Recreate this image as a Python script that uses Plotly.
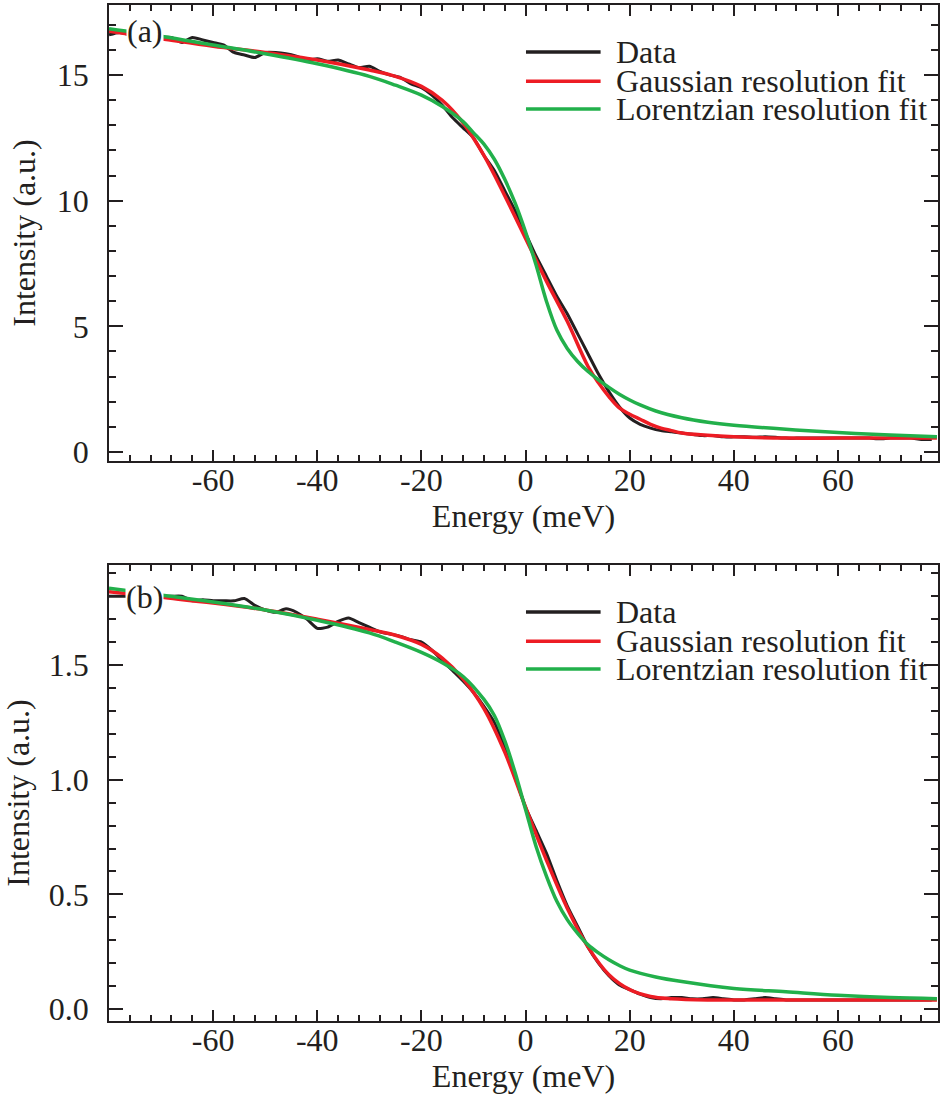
import plotly.graph_objects as go

# ---------------------------------------------------------------- data
# Measured spectra, sampled every 2 meV from -80 to 78 meV
energy_data = list(range(-80, 80, 2))

data_a = [16.6, 16.7, 16.6, 16.55, 16.5, 16.5, 16.5, 16.3, 16.5, 16.4,
          16.3, 16.2, 15.9, 15.8, 15.7, 15.9, 15.9, 15.85, 15.75, 15.6,
          15.65, 15.55, 15.6, 15.45, 15.3, 15.35, 15.15, 15.0, 14.9, 14.65,
          14.5, 14.2, 13.8, 13.3, 12.9, 12.5, 11.8, 11.2, 10.4, 9.6,
          8.7, 7.8, 7.0, 6.2, 5.5, 4.7, 3.9, 3.1, 2.4, 1.8,
          1.35, 1.1, 0.95, 0.85, 0.8, 0.75, 0.7, 0.65, 0.65, 0.6,
          0.6, 0.6, 0.58, 0.6, 0.58, 0.55, 0.55, 0.55, 0.55, 0.55,
          0.55, 0.55, 0.55, 0.55, 0.52, 0.55, 0.55, 0.55, 0.5, 0.5]

data_b = [1.80, 1.80, 1.80, 1.80, 1.80, 1.80, 1.80, 1.80, 1.78, 1.785,
          1.78, 1.78, 1.78, 1.79, 1.76, 1.74, 1.73, 1.745, 1.73, 1.70,
          1.66, 1.665, 1.69, 1.705, 1.685, 1.665, 1.645, 1.635, 1.625, 1.61,
          1.60, 1.565, 1.52, 1.475, 1.43, 1.38, 1.32, 1.25, 1.14, 1.01,
          0.88, 0.78, 0.68, 0.56, 0.45, 0.36, 0.27, 0.20, 0.145, 0.105,
          0.085, 0.065, 0.05, 0.045, 0.05, 0.05, 0.045, 0.045, 0.05, 0.045,
          0.04, 0.04, 0.045, 0.05, 0.045, 0.04, 0.04, 0.04, 0.04, 0.04,
          0.04, 0.04, 0.04, 0.04, 0.04, 0.04, 0.04, 0.04, 0.04, 0.04]

# Gaussian-resolution fits
gauss_e_a = [-80, -70, -60, -50, -40, -30, -25, -20, -16, -12, -8, -4, 0, 4, 8,
             12, 14, 16, 18, 20, 22, 24, 26, 28, 30, 40, 50, 60, 70, 79]
gauss_a = [16.75, 16.45, 16.15, 15.9, 15.6, 15.2, 14.95, 14.55, 14.0, 13.1,
           11.8, 10.2, 8.5, 6.8, 5.2, 3.4, 2.75, 2.2, 1.75, 1.5,
           1.3, 1.1, 0.95, 0.85, 0.75, 0.6, 0.55, 0.55, 0.55, 0.55]

gauss_e_b = [-80, -70, -60, -50, -40, -30, -25, -20, -16, -12, -8, -4, 0, 4, 8,
             12, 16, 20, 24, 28, 35, 50, 79]
gauss_b = [1.82, 1.795, 1.77, 1.74, 1.70, 1.655, 1.63, 1.59, 1.53, 1.44,
           1.31, 1.12, 0.88, 0.65, 0.44, 0.27, 0.15, 0.085, 0.055, 0.045,
           0.04, 0.04, 0.04]

# Lorentzian-resolution fits
lor_e_a = [-80, -70, -60, -50, -40, -30, -25, -20, -16, -12, -10, -8, -6, -4, -2, 0,
           2, 4, 6, 8, 10, 12, 14, 16, 18, 20, 22, 25, 30, 35, 40, 50, 60, 70, 79]
lor_a = [16.85, 16.55, 16.2, 15.85, 15.45, 14.95, 14.6, 14.2, 13.75, 13.15,
         12.7, 12.25, 11.65, 10.85, 9.9, 8.75, 7.45, 6.0, 4.85, 4.12,
         3.6, 3.2, 2.87, 2.57, 2.3, 2.07, 1.87, 1.63, 1.36, 1.18,
         1.06, 0.9, 0.77, 0.67, 0.6]

lor_e_b = [-80, -70, -60, -50, -40, -30, -25, -20, -16, -12, -8, -6, -4, -2, 0,
           2, 4, 6, 8, 10, 12, 14, 16, 18, 20, 25, 30, 40, 50, 60, 70, 79]
lor_b = [1.835, 1.805, 1.775, 1.74, 1.695, 1.64, 1.60, 1.555, 1.51, 1.45,
         1.35, 1.28, 1.17, 1.03, 0.87, 0.71, 0.58, 0.47, 0.39, 0.33,
         0.28, 0.245, 0.215, 0.19, 0.17, 0.14, 0.12, 0.09, 0.075, 0.06,
         0.05, 0.045]

x_ticks = [-60, -40, -20, 0, 20, 40, 60]
y_ticks_a = [0, 5, 10, 15]
y_ticks_b = [0.0, 0.5, 1.0, 1.5]
legend_names = ["Data", "Gaussian resolution fit", "Lorentzian resolution fit"]
panel_labels = ["(a)", "(b)"]

# ---------------------------------------------------------------- style
BLACK = "#231f20"
RED = "#ed1c24"
GREEN = "#22b04b"
FONT = "Liberation Serif"
FS = 32

fig = go.Figure()

panels = [
    ("x", "y", data_a, gauss_e_a, gauss_a, lor_e_a, lor_a),
    ("x2", "y2", data_b, gauss_e_b, gauss_b, lor_e_b, lor_b),
]
for xa, ya, dat, ge, gv, le, lv in panels:
    fig.add_trace(go.Scatter(x=energy_data, y=dat, mode="lines",
                             line=dict(color=BLACK, width=3, shape="spline", smoothing=0.6),
                             xaxis=xa, yaxis=ya, showlegend=False))
    fig.add_trace(go.Scatter(x=ge, y=gv, mode="lines",
                             line=dict(color=RED, width=3.5, shape="spline", smoothing=1),
                             xaxis=xa, yaxis=ya, showlegend=False))
    fig.add_trace(go.Scatter(x=le, y=lv, mode="lines",
                             line=dict(color=GREEN, width=3.5, shape="spline", smoothing=1),
                             xaxis=xa, yaxis=ya, showlegend=False))


def xaxis_style(anchor):
    return dict(
        anchor=anchor, domain=[0, 1], range=[-80, 79.2],
        tickvals=x_ticks, ticktext=[str(v) for v in x_ticks],
        ticks="inside", ticklen=11, tickwidth=1.5, tickcolor=BLACK,
        minor=dict(dtick=4, tick0=0, ticks="inside", ticklen=6, tickwidth=1.5, tickcolor=BLACK),
        showline=True, linecolor=BLACK, linewidth=1.6, mirror="ticks",
        showgrid=False, zeroline=False,
        tickfont=dict(family=FONT, size=FS, color=BLACK),
        ticklabelstandoff=-10,
        title=dict(text="Energy (meV)", font=dict(family=FONT, size=FS, color=BLACK), standoff=0),
    )


def yaxis_style(anchor, domain, rng, ticks, fmt):
    return dict(
        anchor=anchor, domain=domain, range=rng,
        tickvals=ticks, ticktext=[fmt.format(v) for v in ticks],
        ticks="inside", ticklen=14, tickwidth=1.5, tickcolor=BLACK,
        minor=dict(dtick=(ticks[1] - ticks[0]) / 5, tick0=0, ticks="inside",
                   ticklen=7, tickwidth=1.5, tickcolor=BLACK),
        showline=True, linecolor=BLACK, linewidth=1.6, mirror="ticks",
        showgrid=False, zeroline=False,
        tickfont=dict(family=FONT, size=FS, color=BLACK),
        title=dict(text="Intensity (a.u.)", font=dict(family=FONT, size=FS, color=BLACK), standoff=12),
        ticklabelstandoff=12,
    )


fig.update_layout(
    width=941, height=1101,
    margin=dict(l=109, r=1, t=5, b=80),
    paper_bgcolor="white", plot_bgcolor="white",
    font=dict(family=FONT, size=FS, color=BLACK),
    showlegend=False,
    xaxis=xaxis_style("y"),
    xaxis2=xaxis_style("y2"),
    yaxis=yaxis_style("x", [0.5512, 1.0], [-0.36, 17.79], y_ticks_a, "{:d}"),
    yaxis2=yaxis_style("x2", [0.0, 0.4488], [-0.052, 1.936], y_ticks_b, "{:.1f}"),
)

# legends drawn inside each panel
line_colors = [BLACK, RED, GREEN]
leg_y = [0.897, 0.833, 0.772]
for xa, ya in [("x", "y"), ("x2", "y2")]:
    for name, col, yy in zip(legend_names, line_colors, leg_y):
        fig.add_shape(type="line", xref=f"{xa} domain", yref=f"{ya} domain",
                      x0=0.503, x1=0.593, y0=yy, y1=yy,
                      line=dict(color=col, width=3.5))
        fig.add_annotation(xref=f"{xa} domain", yref=f"{ya} domain",
                           x=0.609, y=yy, xanchor="left", yanchor="middle",
                           text=name, showarrow=False,
                           font=dict(family=FONT, size=FS, color=BLACK))

# panel labels with white backing
for (xa, ya), lab, yy in zip([("x", "y"), ("x2", "y2")], panel_labels, [0.943, 0.930]):
    fig.add_annotation(xref=f"{xa} domain", yref=f"{ya} domain",
                       x=0.0433, y=yy, xanchor="center", yanchor="middle",
                       text=lab, showarrow=False, bgcolor="white", borderpad=0,
                       font=dict(family=FONT, size=FS, color=BLACK))

fig.write_html("out.html")
